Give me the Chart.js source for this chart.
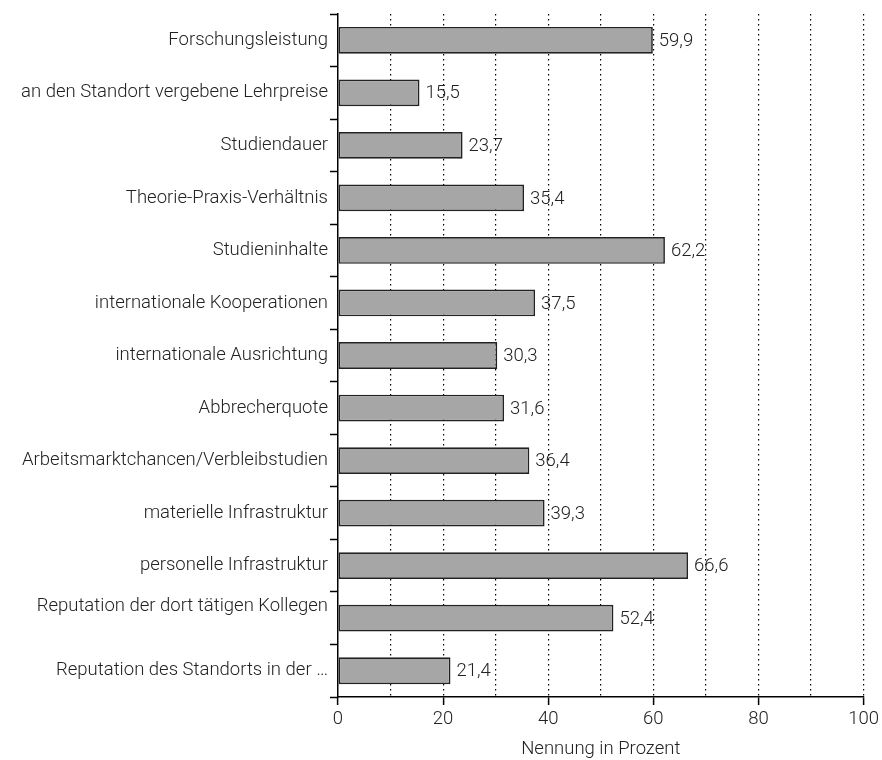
<!DOCTYPE html>
<html>
<head>
<meta charset="utf-8">
<script src="https://cdn.jsdelivr.net/npm/chart.js@4/dist/chart.umd.min.js"></script>
<style>
  html, body { margin: 0; padding: 0; background: #fff; }
  #wrap { width: 882px; height: 760px; }
</style>
</head>
<body>
<div id="wrap"><canvas id="chart"></canvas></div>
<script>
// Kriterien (von oben nach unten) und Nennung in Prozent
const categories = [
  'Forschungsleistung',
  'an den Standort vergebene Lehrpreise',
  'Studiendauer',
  'Theorie-Praxis-Verhältnis',
  'Studieninhalte',
  'internationale Kooperationen',
  'internationale Ausrichtung',
  'Abbrecherquote',
  'Arbeitsmarktchancen/Verbleibstudien',
  'materielle Infrastruktur',
  'personelle Infrastruktur',
  ['Reputation der dort tätigen Kollegen', ''],
  'Reputation des Standorts in der …'
];

const values = [59.9, 15.5, 23.7, 35.4, 62.2, 37.5, 30.3, 31.6, 36.4, 39.3, 66.6, 52.4, 21.4];

const xTicks = [0, 20, 40, 60, 80, 100];

const FONT = 'Roboto, "Liberation Sans", sans-serif';
const TEXT = '#222';
const SIZE = 18.5;

// Wertbeschriftung rechts neben den Balken
const valueLabels = {
  id: 'valueLabels',
  afterDatasetsDraw(chart) {
    const { ctx } = chart;
    const meta = chart.getDatasetMeta(0);
    ctx.save();
    ctx.font = '300 ' + SIZE + 'px ' + FONT;
    ctx.fillStyle = TEXT;
    ctx.textAlign = 'left';
    ctx.textBaseline = 'middle';
    meta.data.forEach((bar, i) => {
      const txt = values[i].toFixed(1).replace('.', ',');
      ctx.fillText(txt, bar.x + 6, bar.y + 1);
    });
    ctx.restore();
  }
};

new Chart(document.getElementById('chart'), {
  type: 'bar',
  data: {
    labels: categories,
    datasets: [{
      data: values,
      backgroundColor: '#a6a6a6',
      borderColor: '#222',
      borderWidth: 1.7,
      borderSkipped: false,
      barPercentage: 0.51,
      categoryPercentage: 1
    }]
  },
  options: {
    indexAxis: 'y',
    responsive: true,
    maintainAspectRatio: false,
    animation: false,
    layout: { padding: { top: 12, right: 17, left: 0, bottom: 0 } },
    plugins: {
      legend: { display: false },
      tooltip: { enabled: false }
    },
    scales: {
      x: {
        min: 0,
        max: 100,
        afterBuildTicks: axis => {
          axis.ticks = [0, 10, 20, 30, 40, 50, 60, 70, 80, 90, 100].map(v => ({ value: v }));
        },
        afterFit: axis => { axis.height = 63; },
        border: { display: true, color: '#000', width: 1.5, dash: [1.5, 3.5] },
        grid: {
          drawOnChartArea: true,
          color: c => (c.tick && c.tick.value > 0) ? '#000' : 'rgba(0,0,0,0)',
          lineWidth: 1.2,
          tickLength: 8,
          tickColor: c => (c.tick && xTicks.includes(c.tick.value)) ? '#000' : 'rgba(0,0,0,0)',
          tickWidth: 1.5
        },
        ticks: {
          autoSkip: false,
          maxRotation: 0,
          padding: 3,
          color: TEXT,
          font: { family: FONT, size: SIZE, weight: '300' },
          callback: v => xTicks.includes(v) ? String(v) : ''
        },
        title: {
          display: true,
          text: 'Nennung in Prozent',
          color: TEXT,
          font: { family: FONT, size: SIZE, weight: '300' },
          padding: { top: 2, bottom: 0 }
        }
      },
      y: {
        afterFit: axis => { axis.width = 338; },
        border: { display: true, color: '#000', width: 1.5 },
        grid: {
          offset: true,
          drawOnChartArea: false,
          tickLength: 8,
          tickColor: '#000',
          tickWidth: 1.5
        },
        ticks: {
          padding: 2,
          color: TEXT,
          font: { family: FONT, size: SIZE, weight: '300', lineHeight: 1.3 }
        }
      }
    }
  },
  plugins: [valueLabels]
});
</script>
</body>
</html>
